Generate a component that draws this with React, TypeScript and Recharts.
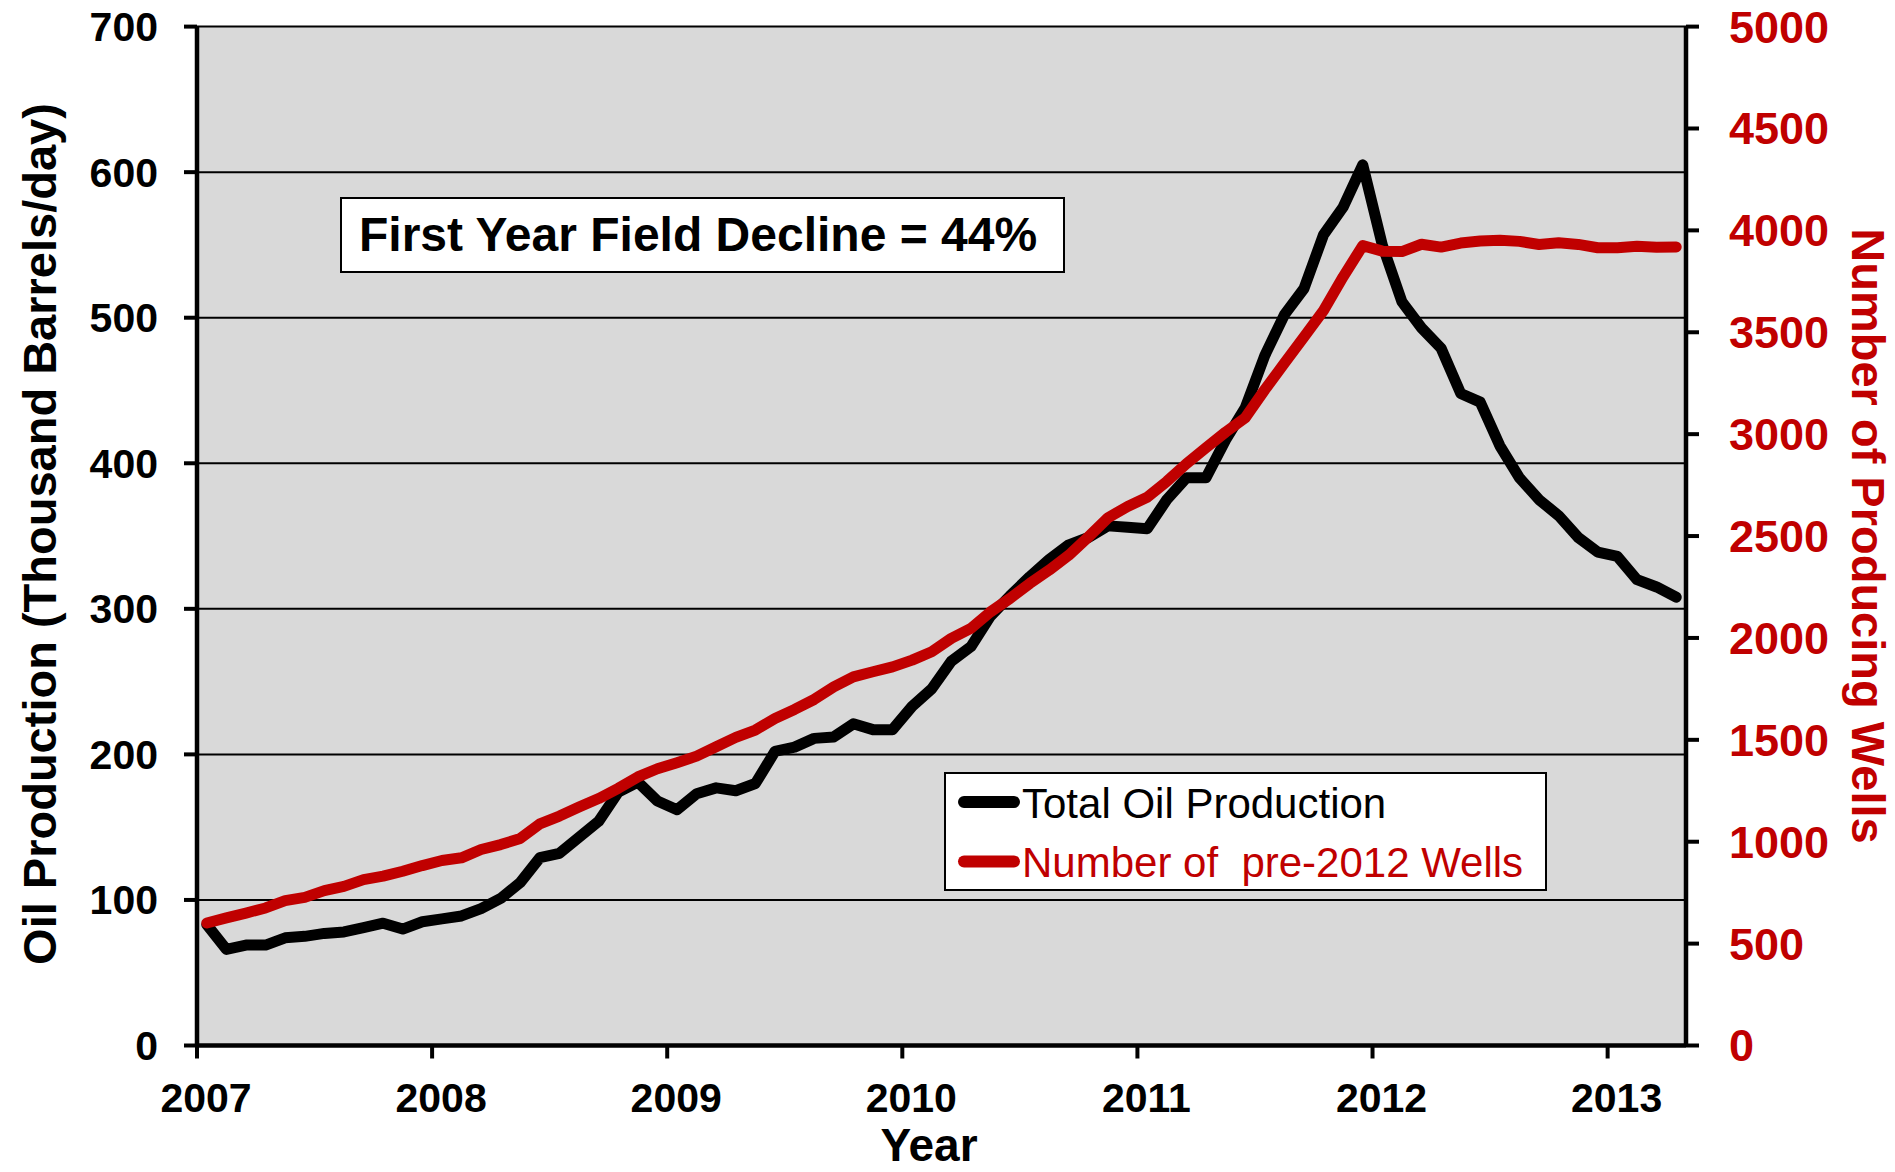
import { LineChart, Line, XAxis, YAxis, CartesianGrid, Legend } from "recharts"

const FONT = '"Liberation Sans", Arial, Helvetica, sans-serif'
const RED = "#C00000"

const yearLabels = ["2007", "2008", "2009", "2010", "2011", "2012", "2013"]
const productionTicks = [0, 100, 200, 300, 400, 500, 600, 700]
const wellTicks = [0, 500, 1000, 1500, 2000, 2500, 3000, 3500, 4000, 4500, 5000]
const seriesNames = ["Total Oil Production", "Number of  pre-2012 Wells"]

// monthly, Jan 2007 .. Apr 2013 (thousand barrels/day)
const totalOilProduction = [
  83, 66, 69, 69, 74, 75, 77, 78, 81, 84, 80, 85,
  87, 89, 94, 101, 112, 129, 132, 143, 154, 174, 181, 168,
  162, 173, 177, 175, 180, 202, 205, 211, 212, 221, 217, 217,
  233, 245, 264, 274, 295, 309, 322, 334, 344, 349, 357, 356,
  355, 375, 390, 390, 416, 438, 474, 502, 520, 557, 576, 605,
  550, 511, 493, 479, 448, 442, 412, 390, 375, 364, 349, 339,
  336, 320, 315, 308,
]

// producing wells drilled before 2012
const preWells = [
  601, 626, 650, 675, 711, 727, 760, 781, 814, 831, 855, 883,
  908, 921, 962, 986, 1016, 1088, 1126, 1170, 1212, 1262, 1318, 1358,
  1388, 1420, 1466, 1512, 1548, 1605, 1649, 1698, 1760, 1809, 1834, 1858,
  1891, 1932, 1998, 2047, 2128, 2194, 2267, 2333, 2406, 2496, 2590, 2645,
  2690, 2768, 2855, 2933, 3010, 3080, 3218, 3348, 3477, 3607, 3772, 3925,
  3898, 3896, 3932, 3918, 3938, 3948, 3952, 3946, 3931, 3939, 3931, 3915,
  3915, 3922, 3917, 3919,
]

// x is months since Jan 2007, each value sits mid-month
const data = totalOilProduction.map((oil, i) => ({ month: i + 0.5, oil, wells: preWells[i] }))

const leftTitle = () => (
  <text x={56} y={534} transform="rotate(-90 56 534)" textAnchor="middle"
    fontSize={47} fontWeight={700} fill="#000" fontFamily={FONT}>
    Oil Production (Thousand Barrels/day)
  </text>
)

const rightTitle = () => (
  <text x={1852} y={536} transform="rotate(90 1852 536)" textAnchor="middle"
    fontSize={47} fontWeight={700} fill={RED} fontFamily={FONT}>
    Number of Producing Wells
  </text>
)

const bottomTitle = () => (
  <text x={929} y={1161} textAnchor="middle" fontSize={46} fontWeight={700} fill="#000" fontFamily={FONT}>
    Year
  </text>
)

function LegendBox({ payload }: any) {
  // keep the series order of the original legend
  const items = [...(payload ?? [])].sort(
    (a: any, b: any) => seriesNames.indexOf(a.value) - seriesNames.indexOf(b.value)
  )
  return (
    <svg width={603} height={119} style={{ display: "block" }}>
      <rect x={1} y={1} width={601} height={117} fill="#fff" stroke="#000" strokeWidth={2} />
      {items.map((item: any, k: number) => {
        const cy = 30 + k * 59.4
        return (
          <g key={item.value}>
            <line x1={20} x2={70} y1={cy} y2={cy} stroke={item.color} strokeWidth={12} strokeLinecap="round" />
            <text x={78} y={cy + 16} fontSize={42} fill={item.color} fontFamily={FONT}
              xmlSpace="preserve" style={{ whiteSpace: "pre" }}>
              {item.value}
            </text>
          </g>
        )
      })}
    </svg>
  )
}

export default function App() {
  return (
    <div style={{ position: "absolute", left: 0, top: 0, width: 1895, height: 1172, background: "#fff", fontFamily: FONT }}>
      <LineChart width={1895} height={1172} data={data} margin={{ top: 26.6, right: 49, bottom: 66.5, left: 77 }}>
        <CartesianGrid yAxisId="left" vertical={false} stroke="#000" strokeWidth={2} fill="#D9D9D9" fillOpacity={1} />
        <XAxis
          type="number"
          dataKey="month"
          domain={[0, 76]}
          ticks={yearLabels.map((_, k) => k * 12)}
          tickFormatter={(v: number) => yearLabels[Math.round(v / 12)]}
          interval={0}
          height={60}
          axisLine={{ stroke: "#000", strokeWidth: 4.5 }}
          tickLine={{ stroke: "#000", strokeWidth: 4 }}
          tickSize={13}
          tickMargin={24}
          tick={{ fill: "#000", fontSize: 41, fontWeight: 700, dx: 9 }}
          label={{ content: bottomTitle }}
        />
        <YAxis
          yAxisId="left"
          domain={[0, 700]}
          ticks={productionTicks}
          interval={0}
          width={120}
          axisLine={{ stroke: "#000", strokeWidth: 4.5 }}
          tickLine={{ stroke: "#000", strokeWidth: 4 }}
          tickSize={13}
          tickMargin={26}
          tick={{ fill: "#000", fontSize: 41, fontWeight: 700 }}
          label={{ content: leftTitle }}
        />
        <YAxis
          yAxisId="right"
          orientation="right"
          domain={[0, 5000]}
          ticks={wellTicks}
          interval={0}
          width={160}
          axisLine={{ stroke: "#000", strokeWidth: 4.5 }}
          tickLine={{ stroke: "#000", strokeWidth: 4 }}
          tickSize={13}
          tickMargin={30}
          tick={{ fill: RED, fontSize: 45, fontWeight: 700 }}
          label={{ content: rightTitle }}
        />
        <Legend
          layout="vertical"
          align="center"
          verticalAlign="middle"
          wrapperStyle={{ left: 944, top: 772, width: 603, height: 119 }}
          content={(props: any) => <LegendBox payload={props.payload} />}
        />
        <Line
          yAxisId="left"
          type="linear"
          dataKey="oil"
          name={seriesNames[0]}
          stroke="#000"
          strokeWidth={11}
          strokeLinejoin="round"
          strokeLinecap="round"
          dot={false}
          activeDot={false}
          isAnimationActive={false}
        />
        <Line
          yAxisId="right"
          type="linear"
          dataKey="wells"
          name={seriesNames[1]}
          stroke={RED}
          strokeWidth={11}
          strokeLinejoin="round"
          strokeLinecap="round"
          dot={false}
          activeDot={false}
          isAnimationActive={false}
        />
      </LineChart>
      <div
        style={{
          position: "absolute", left: 340, top: 197, width: 725, height: 76, boxSizing: "border-box",
          border: "2px solid #000", background: "#fff", display: "flex", alignItems: "center",
          paddingLeft: 17, fontSize: 48, fontWeight: 700, lineHeight: 1, color: "#000",
        }}
      >
        First Year Field Decline = 44%
      </div>
    </div>
  )
}
